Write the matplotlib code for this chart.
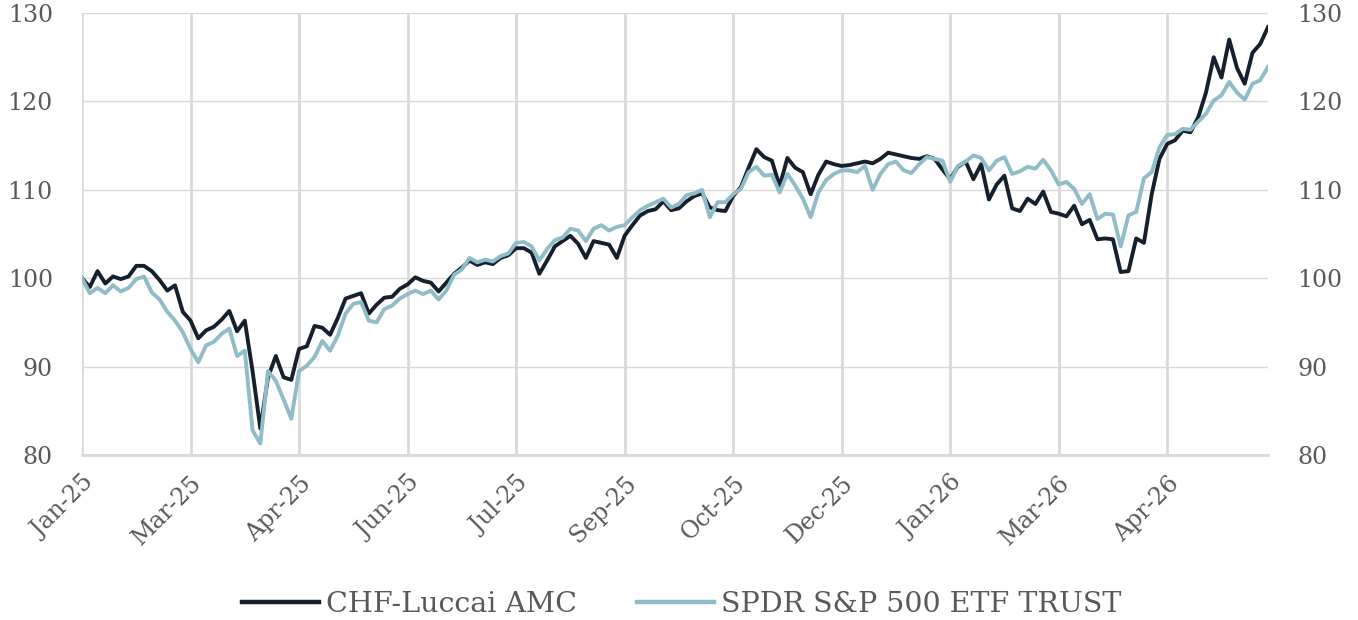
import matplotlib.pyplot as plt
import matplotlib.transforms as mtransforms
import numpy as np

# weekly-ish index levels (start = 100)
chf_luccai = [
    100.0, 99.0, 100.8, 99.4, 100.2, 99.9, 100.2, 101.4, 101.4, 100.8,
    99.8, 98.6, 99.2, 96.2, 95.2, 93.2, 94.1, 94.5, 95.3, 96.3,
    94.0, 95.2, 89.5, 83.0, 88.8, 91.2, 88.8, 88.5, 92.0, 92.3,
    94.6, 94.4, 93.6, 95.5, 97.7, 98.0, 98.3, 96.0, 97.0, 97.8,
    97.9, 98.8, 99.3, 100.1, 99.7, 99.5, 98.5, 99.5, 100.5, 101.2,
    102.0, 101.5, 101.8, 101.6, 102.3, 102.6, 103.4, 103.4, 102.9, 100.5,
    102.0, 103.6, 104.2, 104.8, 103.9, 102.3, 104.2, 104.0, 103.8, 102.3,
    104.8, 106.0, 107.1, 107.6, 107.8, 108.7, 107.7, 107.9, 108.7, 109.3,
    109.6, 108.0, 107.7, 107.6, 109.3, 110.3, 112.5, 114.6, 113.7, 113.3,
    110.4, 113.6, 112.5, 112.0, 109.5, 111.7, 113.2, 112.9, 112.7, 112.8,
    113.0, 113.2, 113.0, 113.5, 114.2, 114.0, 113.8, 113.6, 113.5, 113.8,
    113.5, 112.3, 111.2, 112.6, 113.2, 111.2, 112.9, 108.9, 110.6, 111.6,
    107.9, 107.6, 109.0, 108.4, 109.8, 107.5, 107.3, 107.0, 108.2, 106.1,
    106.6, 104.4, 104.5, 104.4, 100.7, 100.8, 104.5, 104.0, 109.5, 113.5,
    115.2, 115.6, 116.7, 116.5, 118.2, 121.0, 125.0, 122.7, 127.0, 123.8,
    122.0, 125.5, 126.5, 128.4,
]
spdr_sp500 = [
    100.0, 98.3, 98.9, 98.3, 99.2, 98.5, 98.9, 99.9, 100.2, 98.4,
    97.6, 96.2, 95.2, 93.9, 92.0, 90.5, 92.4, 92.8, 93.7, 94.3,
    91.2, 91.8, 82.8, 81.3, 89.5, 88.4, 86.3, 84.1, 89.5, 90.1,
    91.1, 92.9, 91.8, 93.5, 96.0, 97.1, 97.3, 95.2, 95.0, 96.5,
    96.9, 97.7, 98.2, 98.6, 98.2, 98.6, 97.6, 98.6, 100.4, 101.0,
    102.3, 101.8, 102.1, 101.9, 102.5, 102.8, 104.0, 104.1, 103.6, 102.0,
    103.3, 104.3, 104.6, 105.6, 105.4, 104.2, 105.6, 106.0, 105.4, 105.8,
    106.0, 106.9, 107.7, 108.2, 108.6, 109.0, 108.0, 108.4, 109.4, 109.6,
    110.0, 106.9, 108.6, 108.6, 109.5, 110.1, 112.0, 112.6, 111.6, 111.7,
    109.7, 111.8, 110.5, 109.0, 106.9, 109.7, 111.1, 111.8, 112.2, 112.2,
    112.0, 112.7, 110.0, 111.8, 112.9, 113.2, 112.2, 111.9, 112.9, 113.7,
    113.5, 113.3, 110.9, 112.7, 113.2, 113.9, 113.6, 112.2, 113.3, 113.7,
    111.8, 112.1, 112.6, 112.4, 113.4, 112.2, 110.6, 110.9, 110.1, 108.4,
    109.5, 106.7, 107.3, 107.2, 103.6, 107.1, 107.5, 111.3, 112.0, 114.8,
    116.2, 116.3, 116.9, 116.8, 117.7, 118.6, 120.1, 120.7, 122.2, 121.0,
    120.2, 122.0, 122.4, 123.9,
]
month_labels = ['Jan-25', 'Mar-25', 'Apr-25', 'Jun-25', 'Jul-25', 'Sep-25',
                'Oct-25', 'Dec-25', 'Jan-26', 'Mar-26', 'Apr-26']
label_step = 14

plt.rcParams['font.family'] = ['DejaVu Serif']
grey_txt = '#595959'
grid_col = '#d9d9d9'

x = np.arange(len(chf_luccai))

fig = plt.figure(figsize=(13.58, 6.2), dpi=100)
ax = fig.add_axes([0.0604, 0.2661, 0.8733, 0.7129])

ax.plot(x, chf_luccai, color='#16202d', lw=2.8, label='CHF-Luccai AMC')
ax.plot(x, spdr_sp500, color='#8fbcc7', lw=2.8, label='SPDR S&P 500 ETF TRUST')

ax.set_xlim(0, len(x) - 1)
ax.set_ylim(80, 130)
ax.set_yticks(range(80, 131, 10))
ticks = np.arange(len(month_labels)) * label_step
ax.set_xticks(ticks)
ax.set_xticklabels(month_labels, rotation=45, ha='right', rotation_mode='anchor',
                   fontsize=17, color=grey_txt)
# nudge the rotated labels a little to the left, like the original
shift = mtransforms.ScaledTranslation(-8 / 100, 0, fig.dpi_scale_trans)
for lbl in ax.get_xticklabels():
    lbl.set_transform(lbl.get_transform() + shift)

for t in ticks:
    ax.axvline(t, color=grid_col, lw=2.0, zorder=0)
ax.grid(axis='y', color=grid_col, lw=1.0, zorder=0)

for s in ['top', 'left', 'right']:
    ax.spines[s].set_visible(False)
ax.spines['bottom'].set_color(grid_col)
ax.spines['bottom'].set_linewidth(2.0)

ax.tick_params(axis='x', length=0, pad=12)
ax.tick_params(axis='y', length=0, labelsize=17, labelcolor=grey_txt,
               labelleft=True, labelright=True, pad=21)

leg = fig.legend(loc='center', bbox_to_anchor=(0.502, 0.025), ncol=2, frameon=False,
                 fontsize=20.5, labelcolor=grey_txt, handlelength=2.7, handletextpad=0.25,
                 columnspacing=2.1)
for h in leg.legend_handles:
    h.set_linewidth(3.2)

fig.savefig('out.png', dpi=100)
